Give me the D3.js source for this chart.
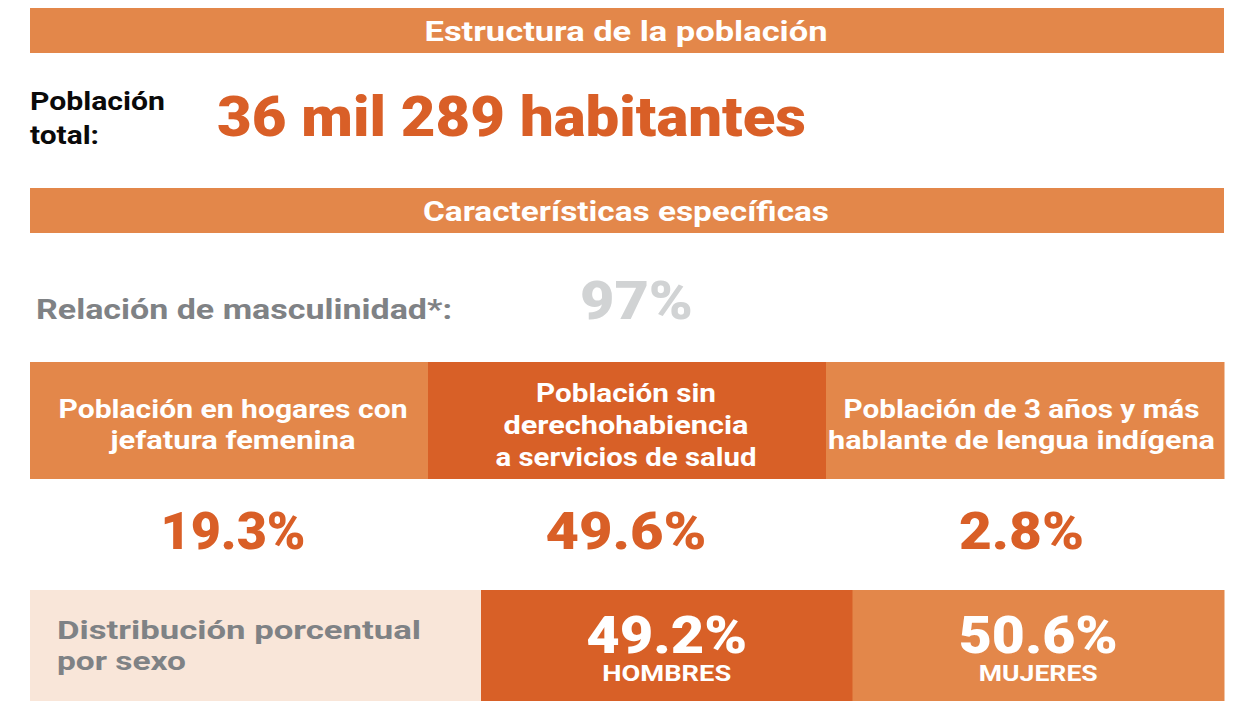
<!DOCTYPE html>
<html>
<head>
<meta charset="utf-8">
<script src="https://cdn.jsdelivr.net/npm/d3@7"></script>
<style>
  html, body { margin: 0; padding: 0; background: #ffffff; }
  svg { display: block; }
  text { font-family: Roboto, "DejaVu Sans", sans-serif; }
</style>
</head>
<body>
<svg id="chart" width="1243" height="701"></svg>
<script>
// ---------------- DATA ----------------
const sectionTitles = ["Estructura de la población", "Características específicas"];
const totalLabelLines = ["Población", "total:"];
const totalPopulation = 36289;
const masculinityLabel = "Relación de masculinidad*:";
const masculinityValue = 97;
const indicatorLabels = [
  ["Población en hogares con", "jefatura femenina"],
  ["Población sin", "derechohabiencia", "a servicios de salud"],
  ["Población de 3 años y más", "hablante de lengua indígena"]
];
const indicatorValues = [19.3, 49.6, 2.8];
const sexLabelLines = ["Distribución porcentual", "por sexo"];
const sexCategories = ["HOMBRES", "MUJERES"];
const sexValues = [49.2, 50.6];

// ---------------- STYLE / LAYOUT ----------------
const C = {
  light: "#E3874A",
  dark: "#D86027",
  pale: "#F9E6D9",
  accent: "#D95F27",
  grey: "#7F8285",
  lightGrey: "#D1D3D4",
  white: "#FFFFFF",
  black: "#0A0A0A"
};
const L = { left: 30, right: 1224 };

const svg = d3.select("#chart");

function txt(g, s, o) {
  const t = g.append("text")
    .attr("x", o.x).attr("y", o.y)
    .attr("fill", o.fill)
    .attr("font-size", o.size)
    .attr("font-weight", o.weight || 700)
    .attr("text-anchor", o.anchor || "start")
    .text(s);
  if (o.w) t.attr("textLength", o.w).attr("lengthAdjust", "spacingAndGlyphs");
  return t;
}

const fmtPct = v => d3.format(".1f")(v) + "%";
const fmtPop = v => Math.floor(v / 1000) + " mil " + d3.format("03d")(v % 1000) + " habitantes";

// ---- Section banners ----
const bannerY = d3.scaleOrdinal().domain(sectionTitles).range([8, 188]);
const bannerTextW = d3.scaleOrdinal().domain(sectionTitles).range([403, 406]);
sectionTitles.forEach(t => {
  svg.append("rect")
    .attr("x", L.left).attr("y", bannerY(t))
    .attr("width", L.right - L.left).attr("height", 45)
    .attr("fill", C.light);
  txt(svg, t, { x: 626, y: bannerY(t) + 32.5, fill: C.white, size: 27, anchor: "middle", w: bannerTextW(t) });
});

// ---- Total population ----
txt(svg, totalLabelLines[0], { x: 30, y: 110, fill: C.black, size: 26.5, w: 135 });
txt(svg, totalLabelLines[1], { x: 30, y: 143.5, fill: C.black, size: 26.5, w: 69 });
txt(svg, fmtPop(totalPopulation), { x: 217, y: 136, fill: C.accent, size: 55, weight: 900, w: 589 });

// ---- Masculinity ratio ----
txt(svg, masculinityLabel, { x: 36, y: 318.5, fill: C.grey, size: 28, w: 416 });
txt(svg, d3.format("d")(masculinityValue) + "%", { x: 580, y: 319, fill: C.lightGrey, size: 54, weight: 900, w: 113 });

// ---- Indicators ----
const xInd = d3.scaleBand().domain(d3.range(indicatorValues.length)).range([L.left, L.right]).padding(0);
const indFill = [C.light, C.dark, C.light];
const indCenterShift = [4, -1, -3.5];
const indLineW = [[349, 245], [180, 245, 261], [356, 387]];
const indBaselines = { 2: [418, 449.3], 3: [401.7, 434, 465.5] };
const valueW = [145, 161, 125];

const ind = svg.append("g").selectAll("g").data(indicatorValues).join("g");
ind.append("rect")
  .attr("x", (d, i) => xInd(i)).attr("y", 362)
  .attr("width", xInd.bandwidth() + 0.5).attr("height", 117)
  .attr("fill", (d, i) => indFill[i]);
ind.each(function (d, i) {
  const g = d3.select(this);
  const cx = xInd(i) + xInd.bandwidth() / 2 + indCenterShift[i];
  const lines = indicatorLabels[i];
  lines.forEach((ln, j) => {
    txt(g, ln, { x: cx, y: indBaselines[lines.length][j], fill: C.white, size: 26, anchor: "middle", w: indLineW[i][j] });
  });
  txt(g, fmtPct(d), { x: cx, y: 548.5, fill: C.accent, size: 52, weight: 900, anchor: "middle", w: valueW[i] });
});

// ---- Distribution by sex ----
svg.append("rect")
  .attr("x", L.left).attr("y", 590)
  .attr("width", 451).attr("height", 111)
  .attr("fill", C.pale);
txt(svg, sexLabelLines[0], { x: 57, y: 638.5, fill: C.grey, size: 26.5, w: 364 });
txt(svg, sexLabelLines[1], { x: 57, y: 670, fill: C.grey, size: 26.5, w: 129 });

const xSex = d3.scaleBand().domain(sexCategories).range([481, L.right]).padding(0);
const sexFill = [C.dark, C.light];
const sexValW = [161, 159];
const sexCatW = [129, 119];
const sex = svg.append("g").selectAll("g").data(sexCategories).join("g");
sex.append("rect")
  .attr("x", d => xSex(d)).attr("y", 590)
  .attr("width", xSex.bandwidth() + 0.5).attr("height", 111)
  .attr("fill", (d, i) => sexFill[i]);
sex.each(function (d, i) {
  const g = d3.select(this);
  const cx = xSex(d) + xSex.bandwidth() / 2;
  // value and category set as one text block (two stacked lines)
  const t = g.append("text")
    .attr("fill", C.white)
    .attr("text-anchor", "middle");
  t.append("tspan")
    .attr("x", cx).attr("y", 653.3)
    .attr("font-size", 51).attr("font-weight", 900)
    .attr("textLength", sexValW[i]).attr("lengthAdjust", "spacingAndGlyphs")
    .text(fmtPct(sexValues[i]));
  t.append("tspan")
    .attr("x", cx).attr("y", 680.7)
    .attr("font-size", 22).attr("font-weight", 700)
    .attr("textLength", sexCatW[i]).attr("lengthAdjust", "spacingAndGlyphs")
    .text(d);
});
</script>
</body>
</html>
